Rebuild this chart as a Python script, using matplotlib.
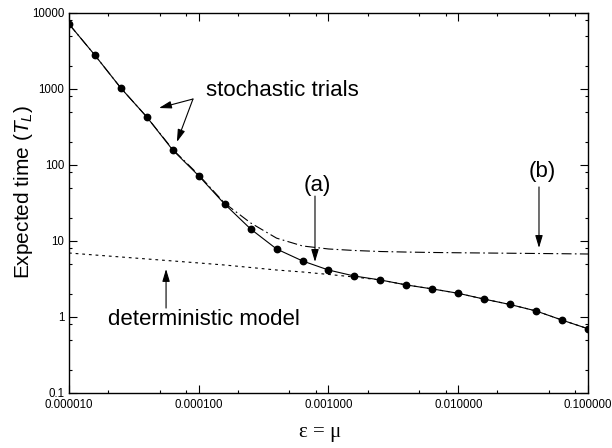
import numpy as np
import matplotlib
matplotlib.use("Agg")
import matplotlib.pyplot as plt
from matplotlib.ticker import LogLocator, FuncFormatter, NullFormatter

plt.rcParams['font.family'] = ['Liberation Sans', 'DejaVu Sans']
plt.rcParams['mathtext.fontset'] = 'custom'
plt.rcParams['mathtext.rm'] = 'Liberation Sans'
plt.rcParams['mathtext.it'] = 'Liberation Sans:italic'

# mutation rate epsilon = mu
eps = [1.0e-5, 1.58e-5, 2.51e-5, 3.98e-5, 6.31e-5,
       1.0e-4, 1.58e-4, 2.51e-4, 3.98e-4, 6.31e-4,
       1.0e-3, 1.58e-3, 2.51e-3, 3.98e-3, 6.31e-3,
       1.0e-2, 1.58e-2, 2.51e-2, 3.98e-2, 6.31e-2, 1.0e-1]

# stochastic trials (points + solid line), case (a)
stochastic = [7160, 2800, 1030, 428, 157, 72, 30.7, 14.4, 7.85, 5.46, 4.15,
              3.46, 3.07, 2.64, 2.34, 2.05, 1.72, 1.46, 1.20, 0.91, 0.70]

# case (b), dash-dot
case_b = [7160, 2800, 1030, 428, 160, 74, 31.5, 17.3, 10.9, 8.6, 7.85,
          7.5, 7.27, 7.15, 7.06, 7.0, 6.95, 6.9, 6.85, 6.8, 6.74]

# deterministic model, dotted
deterministic = [6.95, 6.54, 6.16, 5.80, 5.46, 5.14, 4.83, 4.48, 4.15, 3.91, 3.63,
                 3.36, 3.07, 2.64, 2.34, 2.05, 1.72, 1.46, 1.20, 0.91, 0.70]

fig = plt.figure(figsize=(6.12, 4.48), dpi=100)
ax = fig.add_axes([0.1127, 0.1228, 0.8481, 0.8482])

ax.plot(eps, deterministic, color='black', lw=0.8, dashes=[2.5, 3.5])
ax.plot(eps, case_b, color='black', lw=0.8, dashes=[9, 3, 1.5, 3])
ax.plot(eps, stochastic, color='black', lw=0.8, marker='o', markersize=4.6)

ax.set_xscale('log')
ax.set_yscale('log')
ax.set_xlim(1e-5, 1e-1)
ax.set_ylim(0.1, 10000)

ax.xaxis.set_major_locator(LogLocator(base=10, numticks=10))
ax.xaxis.set_minor_locator(LogLocator(base=10, subs=(2, 5, 8), numticks=10))
ax.yaxis.set_major_locator(LogLocator(base=10, numticks=10))
ax.yaxis.set_minor_locator(LogLocator(base=10, subs=(2, 5, 8), numticks=10))
ax.xaxis.set_major_formatter(FuncFormatter(lambda v, p: f"{v:.6f}"))
ax.yaxis.set_major_formatter(FuncFormatter(lambda v, p: f"{v:g}"))
ax.xaxis.set_minor_formatter(NullFormatter())
ax.yaxis.set_minor_formatter(NullFormatter())

ax.tick_params(which='both', direction='in', top=True, right=True, labelsize=8.3, width=0.8)
ax.tick_params(which='major', length=5.5, pad=3.5)
ax.tick_params(axis='x', which='major', pad=4.5)
ax.tick_params(which='minor', length=2.5)
for s in ax.spines.values():
    s.set_linewidth(1.0)

ax.set_ylabel('Expected time ($T_L$)', fontsize=15)
ax.yaxis.set_label_coords(-0.066, 0.528)
ax.set_xlabel('ε = μ', fontsize=15, family='Liberation Serif')
ax.xaxis.set_label_coords(0.4836, -0.078)

arrow = dict(arrowstyle='-|>,head_length=0.5,head_width=0.15', color='black',
             lw=0.8, mutation_scale=15, shrinkA=0, shrinkB=0)

ax.text(1.14e-4, 942, 'stochastic trials', fontsize=16, ha='left', va='center')
ax.annotate('', xy=(4.94e-5, 562), xytext=(9.03e-5, 738), arrowprops=arrow)
ax.annotate('', xy=(6.79e-5, 201), xytext=(9.03e-5, 738), arrowprops=arrow)

ax.text(8.15e-4, 53, '(a)', fontsize=16, ha='center', va='center')
ax.annotate('', xy=(7.87e-4, 5.3), xytext=(7.87e-4, 39), arrowprops=arrow)

ax.text(0.0442, 83, '(b)', fontsize=16, ha='center', va='center')
ax.annotate('', xy=(0.0419, 8.1), xytext=(0.0419, 51.4), arrowprops=arrow)

ax.text(2.0e-5, 0.914, 'deterministic model', fontsize=16, ha='left', va='center')
ax.annotate('', xy=(5.6e-5, 4.28), xytext=(5.6e-5, 1.31), arrowprops=arrow)

plt.savefig('out.png', dpi=100)
